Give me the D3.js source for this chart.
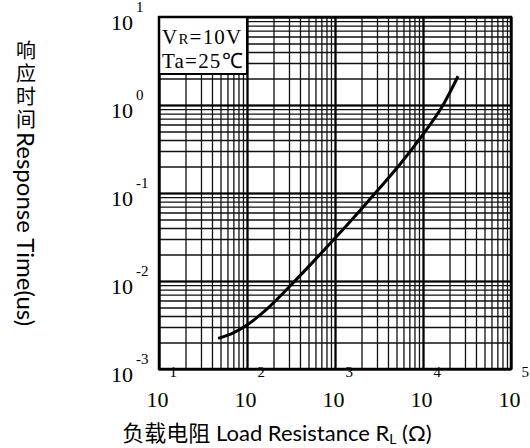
<!DOCTYPE html>
<html><head><meta charset="utf-8">
<script src="https://cdn.jsdelivr.net/npm/d3@7"></script>
<style>body{margin:0;background:#fff}</style></head>
<body>
<svg id="c" width="530" height="448"></svg>
<script>
// ---- data ----
const resistance   = [47, 70, 100, 168, 322, 570, 955, 1480, 2290, 5480, 10000, 16400, 25000];
const responseTime = [0.00223, 0.00258, 0.00316, 0.00479, 0.00918, 0.0167, 0.0292, 0.0472, 0.0771, 0.212, 0.463, 0.951, 2.12];
const xTicks   = [1e1, 1e2, 1e3, 1e4, 1e5];
const xTickExp = ["1", "2", "3", "4", "5"];
const yTicks   = [1e-3, 1e-2, 1e-1, 1e0, 1e1];
const yTickExp = ["-3", "-2", "-1", "0", "1"];
const yTitleCJK = "响应时间";
const yTitleLatin = "Response Time(us)";
const xTitleMain = "负载电阻 Load Resistance R";
const xTitleSub = "L";
const xTitleEnd = " (Ω)";

// ---- layout ----
const L = 159, R = 511, T = 17, B = 369;
const svg = d3.select("#c");
const x = d3.scaleLog().domain([1e1, 1e5]).range([L, R]);
const y = d3.scaleLog().domain([1e-3, 1e1]).range([B, T]);
const serif = "'Liberation Serif', 'Times New Roman', serif";
const sans = "Lato, 'Noto Sans CJK SC', sans-serif";

// minor grid
const gxMinor = svg.append("g").attr("transform", `translate(0,${B})`)
  .call(d3.axisBottom(x).ticks(40).tickSize(-(B - T)).tickFormat(() => ""));
gxMinor.select(".domain").remove();
gxMinor.selectAll("line").attr("stroke", "#111").attr("stroke-width", 1.3);

const gyMinor = svg.append("g").attr("transform", `translate(${L},0)`)
  .call(d3.axisLeft(y).ticks(40).tickSize(-(R - L)).tickFormat(() => ""));
gyMinor.select(".domain").remove();
gyMinor.selectAll("line").attr("stroke", "#111").attr("stroke-width", 1.3);

// major grid
const gxMajor = svg.append("g").attr("transform", `translate(0,${B})`)
  .call(d3.axisBottom(x).tickValues(xTicks).tickSize(-(B - T)).tickFormat(() => ""));
gxMajor.select(".domain").remove();
gxMajor.selectAll("line").attr("stroke", "#000").attr("stroke-width", 2.2);

const gyMajor = svg.append("g").attr("transform", `translate(${L},0)`)
  .call(d3.axisLeft(y).tickValues(yTicks).tickSize(-(R - L)).tickFormat(() => ""));
gyMajor.select(".domain").remove();
gyMajor.selectAll("line").attr("stroke", "#000").attr("stroke-width", 2.2);

// legend box
svg.append("rect").attr("x", L).attr("y", T).attr("width", x(100) - L).attr("height", 74 - T)
  .attr("fill", "#fff").attr("stroke", "#000").attr("stroke-width", 2);
const lg = svg.append("text").attr("x", L + 3).attr("y", 44)
  .style("font-family", serif).style("font-size", "21px").style("letter-spacing", "1.2px").attr("fill", "#000");
lg.append("tspan").text("V");
lg.append("tspan").style("font-size", "15px").text("R");
lg.append("tspan").text("=10V");
lg.append("tspan").attr("x", L + 3).attr("y", 67.5).text("Ta=25℃");

// frame
svg.append("rect").attr("x", L).attr("y", T).attr("width", R - L).attr("height", B - T)
  .attr("fill", "none").attr("stroke", "#000").attr("stroke-width", 2.5);

// curve
const pts = resistance.map((r, i) => [r, responseTime[i]]);
svg.append("path").datum(pts)
  .attr("d", d3.line().x(d => x(d[0])).y(d => y(d[1])).curve(d3.curveCatmullRom.alpha(0.5)))
  .attr("fill", "none").attr("stroke", "#000").attr("stroke-width", 3);

// x axis labels
const gx = svg.append("g").attr("transform", `translate(0,${B})`)
  .call(d3.axisBottom(x).tickValues(xTicks).tickSize(0).tickFormat(() => ""));
gx.select(".domain").remove();
gx.selectAll(".tick text").each(function (d, i) {
  const t = d3.select(this).text(null)
    .attr("x", -13).attr("y", 38).attr("dy", 0).attr("text-anchor", "start")
    .style("font-family", serif).style("font-size", "22px").attr("fill", "#000");
  t.append("tspan").text("10");
  t.append("tspan").attr("dx", 1).attr("dy", -30).style("font-size", "15px").text(xTickExp[i]);
});

// y axis labels
const gy = svg.append("g").attr("transform", `translate(${L},0)`)
  .call(d3.axisLeft(y).tickValues(yTicks).tickSize(0).tickFormat(() => ""));
gy.select(".domain").remove();
gy.selectAll(".tick text").each(function (d, i) {
  const t = d3.select(this).text(null)
    .attr("x", -48).attr("y", 12).attr("dy", 0).attr("text-anchor", "start")
    .style("font-family", serif).style("font-size", "22px").attr("fill", "#000");
  t.append("tspan").text("10");
  t.append("tspan").attr("dx", 3).attr("dy", -18).style("font-size", "15px").text(yTickExp[i]);
});

// y title (vertical writing: CJK upright, Latin sideways)
const yt = svg.append("text").attr("x", 26).attr("y", 40)
  .style("writing-mode", "vertical-rl").style("text-orientation", "mixed")
  .style("font-family", sans).attr("fill", "#000");
yt.append("tspan").style("font-family", "'Noto Sans CJK SC', sans-serif")
  .style("font-size", "20px").style("letter-spacing", "3px").text(yTitleCJK);
yt.append("tspan").style("font-size", "24px").text(yTitleLatin);

// x title
const xt = svg.append("text").attr("x", 277).attr("y", 441).attr("text-anchor", "middle")
  .style("font-family", sans).style("font-size", "22px").attr("fill", "#000");
xt.append("tspan").text(xTitleMain);
xt.append("tspan").attr("dy", 3).style("font-size", "14px").text(xTitleSub);
xt.append("tspan").attr("dy", -3).text(xTitleEnd);
</script>
</body></html>
